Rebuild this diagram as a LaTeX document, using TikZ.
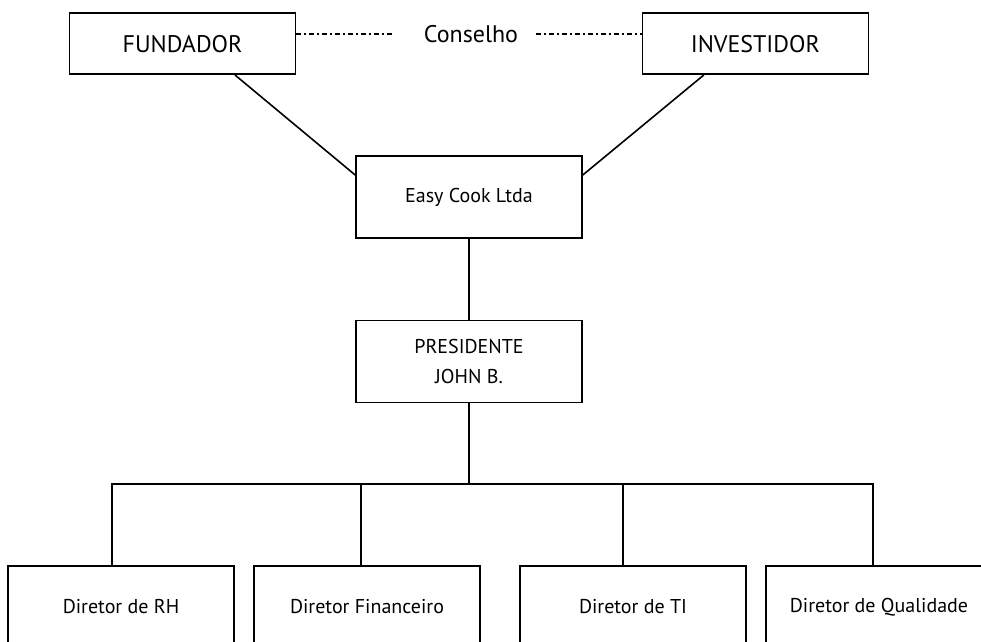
\documentclass[tikz,border=0pt]{standalone}
\usepackage{fontspec}
\setmainfont{PT Sans}
\begin{document}
\begin{tikzpicture}[x=1pt,y=-1pt,
  box/.style={draw, line width=1.6pt, minimum width=226pt, inner sep=0pt, align=center},
  topbox/.style={box, minimum height=61pt, font=\fontsize{24}{28}\selectfont},
  midbox/.style={box, minimum height=82pt, font=\fontsize{20}{30}\selectfont},
  lowbox/.style={box, minimum height=82pt, font=\fontsize{20}{24}\selectfont},
  conn/.style={line width=1.6pt},
  dashdot/.style={line width=2pt, dash pattern=on 5pt off 3pt on 2pt off 3pt}]
\useasboundingbox (0,0) rectangle (981,641);
\clip (0,0) rectangle (981,641);

\node[topbox] (fund) at (182.5,43.7) {FUNDADOR};
\node[topbox] (inv) at (755.3,43.7) {INVESTIDOR};
\node[font=\fontsize{24}{28}\selectfont, inner sep=0pt] (cons) at (471,34) {Conselho};

\node[midbox] (easy) at (469,197) {Easy Cook Ltda};
\node[midbox] (pres) at (469,361.3) {PRESIDENTE\\JOHN B.};

\node[lowbox] (d1) at (121,607) {Diretor de RH};
\node[lowbox] (d2) at (367,607) {Diretor Financeiro};
\node[lowbox] (d3) at (633,607) {Diretor de TI};
\node[lowbox] (d4) at (879,607) {Diretor de Qualidade};

% board line
\draw[dashdot] ([yshift=9.7pt]fund.east) -- ([xshift=-31pt]cons.west);
\draw[dashdot] ([xshift=18pt]cons.east) -- ([yshift=9.7pt]inv.west);

% owners to company
\draw[conn] ([xshift=52.5pt]fund.south) -- ([yshift=22pt]easy.west);
\draw[conn] ([xshift=-51.5pt]inv.south) -- ([yshift=22pt]easy.east);

% company to president
\draw[conn] (easy.south) -- (pres.north);

% president to directors
\coordinate (bus) at (469,484);
\coordinate (t1) at ([xshift=-9pt]d1.north);
\coordinate (t2) at ([xshift=-6pt]d2.north);
\coordinate (t3) at ([xshift=-10pt]d3.north);
\coordinate (t4) at ([xshift=-6pt]d4.north);
\draw[conn] (pres.south) -- (bus);
\draw[conn] (t1) |- (bus) -| (t4);
\draw[conn] (t2) -- (t2 |- bus);
\draw[conn] (t3) -- (t3 |- bus);
\end{tikzpicture}
\end{document}
